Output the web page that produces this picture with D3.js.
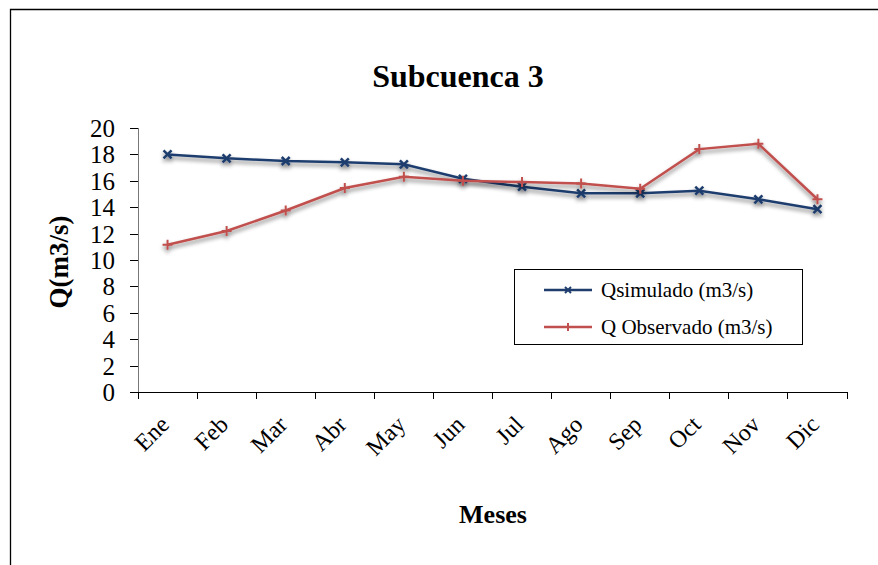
<!DOCTYPE html>
<meta charset="utf-8">
<style>
body { margin: 0; background: #fff; }
.axis line { stroke: #000; shape-rendering: crispEdges; }
.axis path { shape-rendering: crispEdges; }
</style>
<script src="https://d3js.org/d3.v7.min.js"></script>
<svg width="878" height="565" font-family="'Liberation Serif', 'Times New Roman', 'DejaVu Serif', serif"></svg>
<script>

var months = ["Ene", "Feb", "Mar", "Abr", "May", "Jun", "Jul", "Ago", "Sep", "Oct", "Nov", "Dic"];
var qSimulado = [18.0, 17.7, 17.5, 17.4, 17.25, 16.15, 15.55, 15.05, 15.05, 15.25, 14.6, 13.85];
var qObservado = [11.15, 12.2, 13.75, 15.45, 16.3, 16.0, 15.9, 15.8, 15.4, 18.4, 18.8, 14.6];
var yTicks = [0, 2, 4, 6, 8, 10, 12, 14, 16, 18, 20];

var FONT = "'Liberation Serif', 'Times New Roman', 'DejaVu Serif', serif";

var svg = d3.select("svg");

// outer frame
svg.append("path")
    .attr("d", "M10.5,565 L10.5,9.5 L878,9.5")
    .attr("fill", "none")
    .attr("stroke", "#000")
    .attr("stroke-width", 1.3);

var x = d3.scaleBand()
    .domain(months)
    .range([138, 847]);

var y = d3.scaleLinear()
    .domain([0, 20])
    .range([392, 128]);

var defs = svg.append("defs");
var f = defs.append("filter").attr("id", "shadow")
    .attr("x", "-20%").attr("y", "-20%").attr("width", "140%").attr("height", "160%");
f.append("feGaussianBlur").attr("in", "SourceAlpha").attr("stdDeviation", 2);
f.append("feOffset").attr("dx", 0).attr("dy", 3).attr("result", "ob");
f.append("feComponentTransfer").append("feFuncA").attr("type", "linear").attr("slope", 0.5);
var m = f.append("feMerge");
m.append("feMergeNode");
m.append("feMergeNode").attr("in", "SourceGraphic");

// axes
var yg = svg.append("g")
    .attr("class", "axis")
    .attr("transform", "translate(138,0)")
    .call(d3.axisLeft(y).tickValues(yTicks).tickSize(8).tickPadding(15))
    .call(function(g) { g.select(".domain").attr("d", "M0,392V128H-8").attr("stroke", "#777"); });
yg.attr("font-family", FONT);
yg.selectAll("text").attr("font-size", 25).attr("fill", "#000").attr("dy", "0.34em");

var xg = svg.append("g")
    .attr("class", "axis")
    .attr("transform", "translate(0,392)")
    .call(d3.axisBottom(x).tickSize(0).tickFormat(""))
    .call(function(g) { g.select(".domain").attr("d", "M130,0H847").attr("stroke", "#000"); });
xg.attr("font-family", FONT);

xg.selectAll(".bt")
    .data(months.concat(["end"]))
    .enter().append("line")
    .attr("x1", function(d, i) { return i < months.length ? x(d) : x.range()[1]; })
    .attr("x2", function(d, i) { return i < months.length ? x(d) : x.range()[1]; })
    .attr("y1", 0).attr("y2", 7)
    .attr("stroke", "#000");

xg.selectAll(".lbl")
    .data(months)
    .enter().append("text")
    .attr("font-size", 24)
    .attr("fill", "#000")
    .attr("text-anchor", "end")
    .attr("transform", function(d) { return "translate(" + (x(d) + x.bandwidth() / 2 + 3) + ",34) rotate(-45)"; })
    .text(function(d) { return d; });

// titles
svg.append("text")
    .attr("x", 458).attr("y", 87)
    .attr("text-anchor", "middle")
    .attr("font-size", 32).attr("font-weight", "bold")
    .text("Subcuenca 3");

svg.append("text")
    .attr("transform", "translate(68,262) rotate(-90)")
    .attr("text-anchor", "middle")
    .attr("font-size", 27).attr("font-weight", "bold")
    .text("Q(m3/s)");

svg.append("text")
    .attr("x", 493).attr("y", 523)
    .attr("text-anchor", "middle")
    .attr("font-size", 26).attr("font-weight", "bold")
    .text("Meses");

// series
var series = [
    { name: "Qsimulado (m3/s)", values: qSimulado, color: "#1f3e6e", marker: "x" },
    { name: "Q Observado (m3/s)", values: qObservado, color: "#c0504d", marker: "+" }
];

var line = d3.line()
    .x(function(d, i) { return x(months[i]) + x.bandwidth() / 2; })
    .y(function(d) { return y(d); });

function markerPath(type, s) {
    if (type == "x") return "M" + (-s) + "," + (-s) + "L" + s + "," + s + "M" + (-s) + "," + s + "L" + s + "," + (-s);
    return "M" + (-s) + ",0L" + s + ",0M0," + (-s) + "L0," + s;
}

series.forEach(function(s) {
    var g = svg.append("g").attr("filter", "url(#shadow)");
    g.append("path")
        .datum(s.values)
        .attr("fill", "none")
        .attr("stroke", s.color)
        .attr("stroke-width", 2.5)
        .attr("d", line);
    g.selectAll(".mk")
        .data(s.values)
        .enter().append("path")
        .attr("transform", function(d, i) { return "translate(" + (x(months[i]) + x.bandwidth() / 2) + "," + y(d) + ")"; })
        .attr("d", markerPath(s.marker, s.marker == "x" ? 4 : 5))
        .attr("stroke", s.color)
        .attr("stroke-width", s.marker == "x" ? 2.5 : 2);
});

// legend
var lg = svg.append("g").attr("transform", "translate(514,269)");
lg.append("rect")
    .attr("x", 0.5).attr("y", 0.5)
    .attr("width", 288).attr("height", 75)
    .attr("fill", "#fff").attr("stroke", "#000");

series.forEach(function(s, i) {
    var ly = 21 + i * 37;
    lg.append("line")
        .attr("x1", 30).attr("x2", 78).attr("y1", ly).attr("y2", ly)
        .attr("stroke", s.color).attr("stroke-width", 2.5);
    lg.append("path")
        .attr("transform", "translate(54," + ly + ")")
        .attr("d", markerPath(s.marker, s.marker == "x" ? 3 : 4))
        .attr("stroke", s.color).attr("stroke-width", 2);
    lg.append("text")
        .attr("x", 87).attr("y", ly + 7)
        .attr("font-size", 21)
        .text(s.name);
});

</script>
